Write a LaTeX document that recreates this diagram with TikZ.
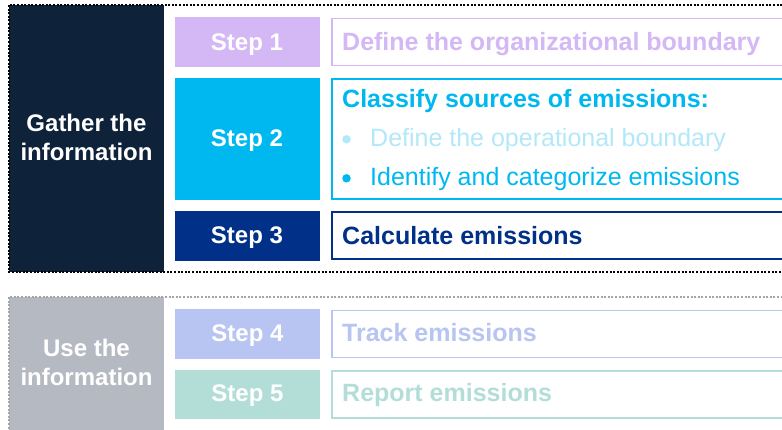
\documentclass[tikz,border=0pt]{standalone}
\usepackage{fontspec}
\setmainfont{Liberation Sans}
\definecolor{cNavyDark}{RGB}{14,34,57}
\definecolor{cLav}{RGB}{212,184,245}
\definecolor{cCyan}{RGB}{0,184,240}
\definecolor{cCyanLt}{RGB}{178,232,250}
\definecolor{cNavy}{RGB}{0,48,135}
\definecolor{cGray}{RGB}{181,186,194}
\definecolor{cPeri}{RGB}{184,196,242}
\definecolor{cMint}{RGB}{179,222,216}
\definecolor{cDashGray}{RGB}{165,165,165}
\begin{document}
\begin{tikzpicture}[x=1pt,y=-1pt,
  stepbox/.style={draw=none,minimum width=145pt,inner sep=0pt},
  descbox/.style={line width=1.5pt,fill=white,minimum width=470pt,minimum height=47pt,inner sep=0pt,anchor=west},
  boldtxt/.style={anchor=base west,inner sep=0pt,font=\fontsize{25}{30}\selectfont\bfseries},
  regtxt/.style={anchor=base west,inner sep=0pt,font=\fontsize{25}{30}\selectfont},
  bulletdot/.style={circle,inner sep=0pt,minimum size=8.5pt},
  grouptxt/.style={anchor=base,inner sep=0pt,text=white,font=\fontsize{24}{29}\selectfont\bfseries}]
\useasboundingbox (0,0) rectangle (782,429);
\clip (0,0) rectangle (782,429);
% group 1
\fill[cNavyDark] (9,5) rectangle (164,272);
\draw[black,line width=1.1pt,dash pattern=on 2pt off 1.6pt] (9,5) rectangle (800,272);
\node[grouptxt] (g1a) at (86.5,131.7) {Gather the};
\node[grouptxt] (g1b) at (86.5,160) {information};
% steps
\node[stepbox,fill=cLav,minimum height=50pt] (s1) at (247,42) {};
\node[stepbox,fill=cCyan,minimum height=122pt] (s2) at (247,139) {};
\node[stepbox,fill=cNavy,minimum height=50pt] (s3) at (247,236) {};
\node[grouptxt] (s1t) at (247,50) {Step 1};
\node[grouptxt] (s2t) at (247,146.7) {Step 2};
\node[grouptxt] (s3t) at (247,243) {Step 3};
% descriptions
\node[descbox,draw=cLav] (d1) at (331,42) {};
\node[descbox,draw=cCyan,minimum height=120pt] (d2) at (331,139) {};
\node[descbox,draw=cNavy] (d3) at (331,235.5) {};
\node[boldtxt,text=cLav] (d1t) at (342,50) {Define the organizational boundary};
\node[boldtxt,text=cCyan] (d2t) at (342,107.3) {Classify sources of emissions:};
\node[bulletdot,fill=cCyanLt] (b1) at (346.5,139.3) {};
\node[regtxt,text=cCyanLt] (d2a) at (370,146.7) {Define the operational boundary};
\node[bulletdot,fill=cCyan] (b2) at (346.5,178.3) {};
\node[regtxt,text=cCyan] (d2b) at (370,185) {Identify and categorize emissions};
\node[boldtxt,text=cNavy] (d3t) at (342,244.3) {Calculate emissions};
% group 2
\fill[cGray] (9,297) rectangle (164,440);
\draw[cDashGray,line width=1.1pt,dash pattern=on 2pt off 1.6pt] (9,297) rectangle (800,440);
\node[grouptxt] (g2a) at (86.5,356.7) {Use the};
\node[grouptxt] (g2b) at (86.5,385) {information};
\node[stepbox,fill=cPeri,minimum height=50pt] (s4) at (247.5,334) {};
\node[stepbox,fill=cMint,minimum height=49pt] (s5) at (247.5,394.5) {};
\node[grouptxt] (s4t) at (247.5,341.7) {Step 4};
\node[grouptxt] (s5t) at (247.5,401.7) {Step 5};
\node[descbox,draw=cPeri] (d4) at (331,334) {};
\node[descbox,draw=cMint] (d5) at (331,394.5) {};
\node[boldtxt,text=cPeri] (d4t) at (342,341.7) {Track emissions};
\node[boldtxt,text=cMint] (d5t) at (342,401.7) {Report emissions};
\end{tikzpicture}
\end{document}
